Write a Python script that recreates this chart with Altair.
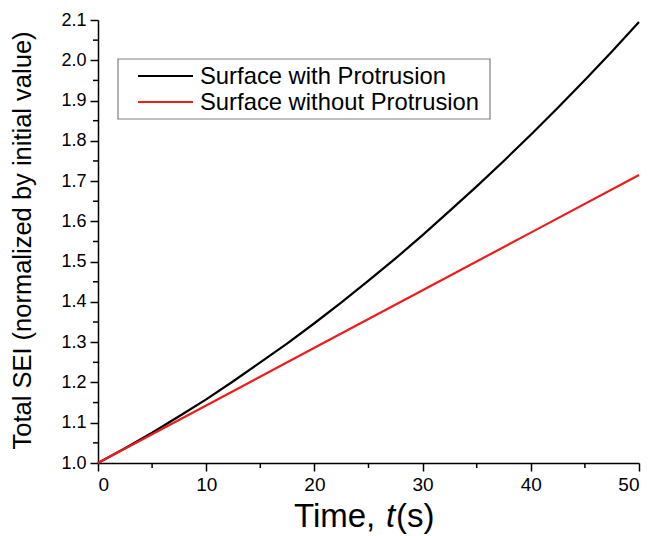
import altair as alt
import pandas as pd

# Data
time_black = [0, 2.5, 5, 7.5, 10, 12.5, 15, 17.5, 20, 22.5, 25, 27.5, 30, 32.5, 35, 37.5, 40, 42.5, 45, 47.5, 50]
sei_black = [1.000, 1.037, 1.075, 1.116, 1.158, 1.203, 1.250, 1.297, 1.347, 1.399, 1.453, 1.508,
             1.566, 1.626, 1.687, 1.750, 1.815, 1.882, 1.951, 2.022, 2.095]
time_red = [0, 10, 20, 30, 40, 50]
sei_red = [1.000, 1.143, 1.286, 1.429, 1.572, 1.715]
series_names = ["Surface with Protrusion", "Surface without Protrusion"]
series_colors = ["#000000", "#ee1c1c"]

x_ticks = [0, 10, 20, 30, 40, 50]
x_minor = [5, 15, 25, 35, 45]
y_ticks = [1.0, 1.1, 1.2, 1.3, 1.4, 1.5, 1.6, 1.7, 1.8, 1.9, 2.0, 2.1]
y_minor = [1.05, 1.15, 1.25, 1.35, 1.45, 1.55, 1.65, 1.75, 1.85, 1.95, 2.05]
x_title_parts = ["Time, ", "t", "(s)"]
y_title = "Total SEI (normalized by initial value)"

df = pd.concat([
    pd.DataFrame({"t": time_black, "v": sei_black, "series": series_names[0]}),
    pd.DataFrame({"t": time_red, "v": sei_red, "series": series_names[1]}),
])

W, H = 541, 443
FONT = "Liberation Sans"

xscale = alt.Scale(domain=[0, 50], nice=False, zero=False)
yscale = alt.Scale(domain=[1.0, 2.1], nice=False, zero=False)

lines = alt.Chart(df).mark_line(strokeWidth=2.2).encode(
    x=alt.X("t:Q", scale=xscale, axis=alt.Axis(values=x_ticks, title=None, format="d",
                                               labelFontSize=19, labelPadding=4)),
    y=alt.Y("v:Q", scale=yscale, axis=alt.Axis(values=y_ticks, format=".1f", title=y_title,
                                               labelFontSize=18, labelPadding=4,
                                               titleFontSize=25.5, titleX=-76, titleY=220,
                                               titleAngle=-90, titleAlign="center",
                                               titleBaseline="middle")),
    color=alt.Color("series:N",
                    scale=alt.Scale(domain=series_names, range=series_colors),
                    legend=None),
    order=alt.Order("t:Q"),
)

xm = alt.Chart(pd.DataFrame({"t": x_minor})).mark_rule(color="black", strokeWidth=1.5).encode(
    x=alt.X("t:Q", scale=xscale), y=alt.value(H), y2=alt.value(H + 5))
ym = alt.Chart(pd.DataFrame({"v": y_minor})).mark_rule(color="black", strokeWidth=1.5).encode(
    y=alt.Y("v:Q", scale=yscale), x=alt.value(0), x2=alt.value(-5))

# manual legend
leg_df = pd.DataFrame({"name": series_names, "color": series_colors})
leg_box = alt.Chart(pd.DataFrame({"k": [0]})).mark_rect(
    fill="white", stroke="#808080", strokeWidth=1.2).encode(
    x=alt.value(20), x2=alt.value(392), y=alt.value(39), y2=alt.value(99))
leg_layers = [leg_box]
row_y = [56, 82]
for i in range(2):
    sub = leg_df.iloc[[i]]
    leg_layers.append(alt.Chart(sub).mark_rule(strokeWidth=2, color=series_colors[i]).encode(
        x=alt.value(40), x2=alt.value(95), y=alt.value(row_y[i])))
    leg_layers.append(alt.Chart(sub).mark_text(fontSize=23.8, align="left", baseline="middle",
                                               font=FONT, color="black").encode(
        text="name:N", x=alt.value(102), y=alt.value(row_y[i] + 1)))

tdf = pd.DataFrame({"a": [x_title_parts[0]], "b": [x_title_parts[1]], "c": [x_title_parts[2]]})
t1 = alt.Chart(tdf).mark_text(fontSize=33, align="left", baseline="alphabetic", font=FONT,
                              color="black").encode(
    text="a:N", x=alt.value(196), y=alt.value(507))
t2 = alt.Chart(tdf).mark_text(fontSize=33, align="left", baseline="alphabetic", font=FONT,
                              fontStyle="italic", color="black").encode(
    text="b:N", x=alt.value(288), y=alt.value(507))
t3 = alt.Chart(tdf).mark_text(fontSize=33, align="left", baseline="alphabetic", font=FONT,
                              color="black").encode(
    text="c:N", x=alt.value(298), y=alt.value(507))

chart = alt.layer(lines, xm, ym, *leg_layers, t1, t2, t3).properties(
    width=W, height=H,
    autosize=alt.AutoSizeParams(type="none"),
    padding={"left": 90, "top": 12, "right": 2, "bottom": 72},
).configure_view(stroke=None).configure_axis(
    grid=False, domainColor="black", domainWidth=1.5, tickColor="black", tickWidth=1.5,
    tickSize=8, labelColor="black", titleColor="black", labelFont=FONT, titleFont=FONT,
    titleFontWeight="normal",
)

chart.save("out.html", embed_options={"renderer": "svg", "actions": False})
